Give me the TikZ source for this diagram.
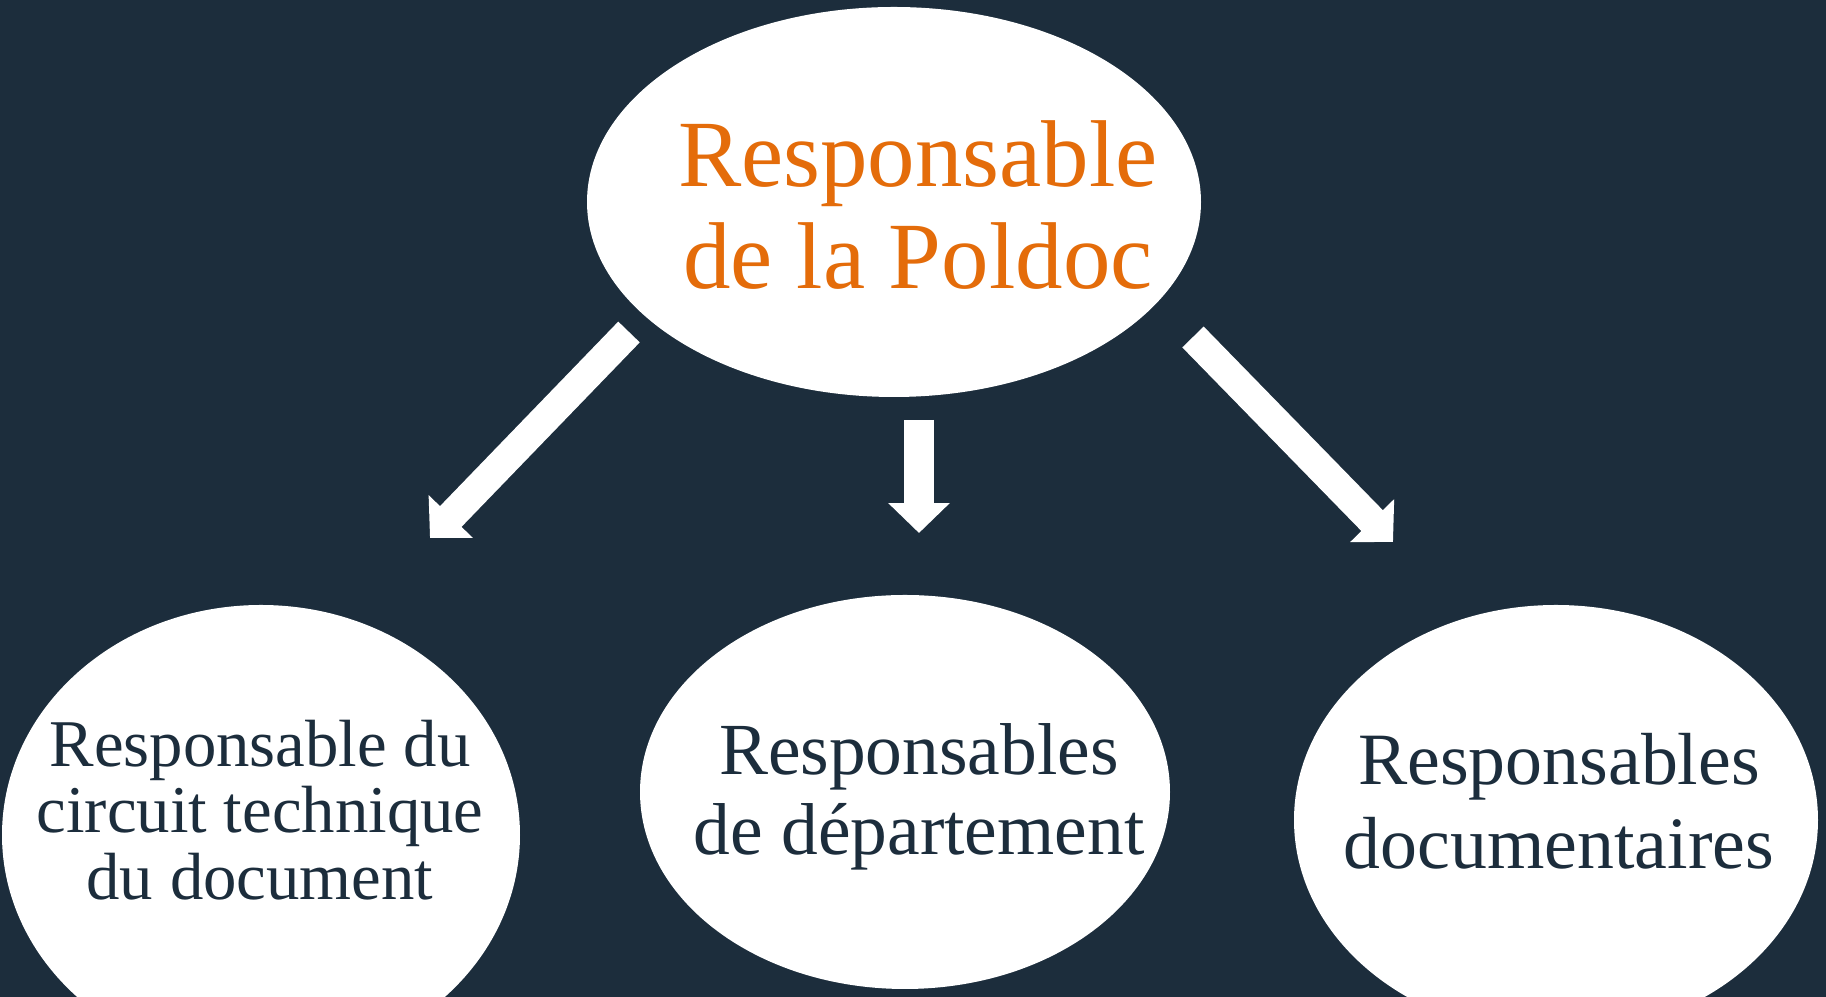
\documentclass[tikz,border=0pt]{standalone}
\usepackage{fontspec}
\setmainfont{Liberation Serif}
\usetikzlibrary{shapes.geometric, arrows.meta}
\definecolor{fond}{HTML}{1C2D3C}
\definecolor{poldoc}{HTML}{E46C0A}
\tikzset{bulle/.style={ellipse, fill=white, draw=none, inner sep=0pt},
  texte/.style={align=center, inner sep=0pt, text=fond},
  fleche/.style={white, line width=8.5pt, -{Triangle[width=17pt,length=8.5pt]}}}

\begin{document}
\begin{tikzpicture}
\useasboundingbox (0,0) rectangle (18.26,-9.97);
\clip (0,0) rectangle (18.26,-9.97);
\fill[fond] (0,0) rectangle (18.26,-9.97);
% les bulles
\node[bulle, minimum width=6.14cm, minimum height=3.90cm] (chef) at (8.94,-2.02) {};
\node[bulle, minimum width=5.18cm, minimum height=4.60cm] (tech) at (2.61,-8.35) {};
\node[bulle, minimum width=5.30cm, minimum height=3.94cm] (dept) at (9.05,-7.92) {};
\node[bulle, minimum width=5.24cm, minimum height=4.30cm] (doc) at (15.56,-8.20) {};
% les textes
\node[texte, text=poldoc, font=\fontsize{27}{29}\selectfont] (chef-t) at (9.18,-2.05) {Responsable\\de la Poldoc};
\node[texte, font=\fontsize{19}{19}\selectfont] (tech-t) at (2.60,-8.10) {Responsable du\\circuit technique\\du document};
\node[texte, font=\fontsize{20.9}{22.8}\selectfont] (dept-t) at (9.19,-7.97) {Responsables\\de d\'epartement};
\node[texte, font=\fontsize{21}{23.9}\selectfont] (doc-t) at (15.59,-8.01) {Responsables\\documentaires};
% les fleches
\coordinate (f1a) at (6.29,-3.32); \coordinate (f1b) at (4.30,-5.38);
\coordinate (f2a) at (9.19,-4.20); \coordinate (f2b) at (9.19,-5.33);
\coordinate (f3a) at (11.93,-3.37); \coordinate (f3b) at (13.93,-5.42);
\draw[fleche] (f1a) -- (f1b); \draw[fleche] (f2a) -- (f2b); \draw[fleche] (f3a) -- (f3b);
\end{tikzpicture}
\end{document}
